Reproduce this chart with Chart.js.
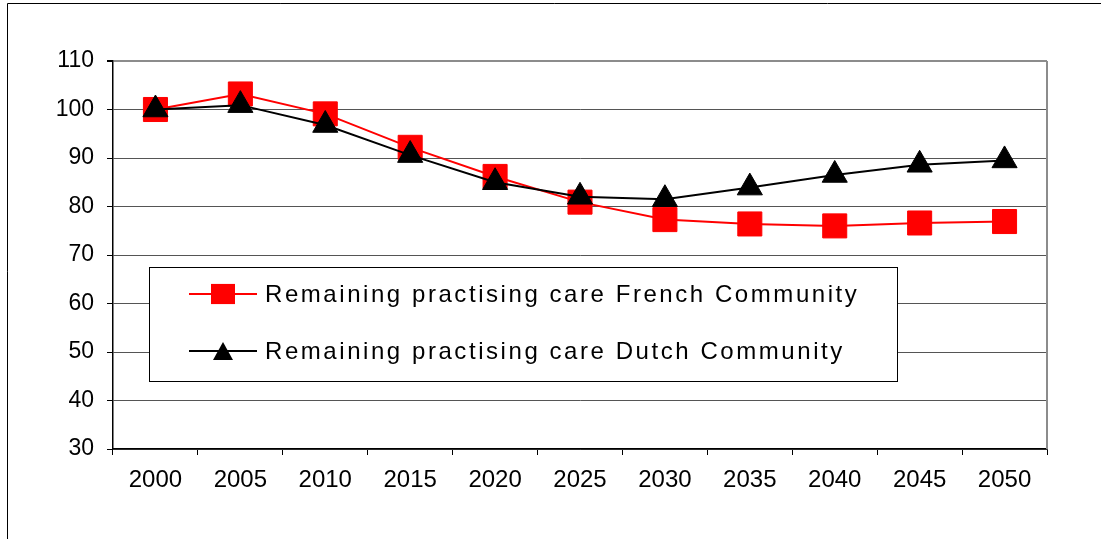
<!DOCTYPE html>
<html><head><meta charset="utf-8">
<script src="https://cdn.jsdelivr.net/npm/chart.js@4/dist/chart.umd.min.js"></script>
<style>html,body{margin:0;padding:0;background:#fff;overflow:hidden}#wrap{width:1101px;height:539px;position:relative}</style>
</head><body><div id="wrap"><canvas id="c" width="1101" height="539"></canvas></div>
<script>
const categories = ['2000','2005','2010','2015','2020','2025','2030','2035','2040','2045','2050'];
const frenchValues = [100, 103.2, 99.1, 92.2, 86.2, 80.9, 77.3, 76.4, 76.0, 76.6, 76.9];
const dutchValues = [100, 100.9, 96.8, 90.6, 85.0, 82.0, 81.5, 83.9, 86.5, 88.6, 89.5];
const yTicks = [30, 40, 50, 60, 70, 80, 90, 100, 110];
const seriesLabels = ['Remaining practising care French Community', 'Remaining practising care Dutch Community'];

const FONT = '"Liberation Sans", Arial, sans-serif';

function drawMarker(ctx, style, x, y, size, color) {
  ctx.fillStyle = color;
  ctx.beginPath();
  if (style === 'rect') {
    ctx.rect(x - size / 2, y - size * 0.42, size, size * 0.84);
  } else {
    const w = size, h = size * 0.9;
    ctx.moveTo(x, y - h / 2);
    ctx.lineTo(x + w / 2, y + h / 2);
    ctx.lineTo(x - w / 2, y + h / 2);
    ctx.closePath();
  }
  ctx.fill();
}

const framePlugin = {
  id: 'frame',
  beforeDraw(chart) {
    const ctx = chart.ctx;
    ctx.save();
    ctx.strokeStyle = '#000';
    ctx.lineWidth = 1;
    ctx.beginPath();
    ctx.moveTo(7.5, 539);
    ctx.lineTo(7.5, 3.5);
    ctx.lineTo(1101, 3.5);
    ctx.stroke();
    ctx.restore();
  },
  beforeDatasetsDraw(chart) {
    const ctx = chart.ctx, a = chart.chartArea;
    ctx.save();
    ctx.strokeStyle = '#8c8c8c';
    ctx.lineWidth = 2;
    ctx.beginPath();
    ctx.moveTo(a.right, a.top);
    ctx.lineTo(a.right, a.bottom);
    ctx.stroke();
    ctx.restore();
  },
  afterDatasetsDraw(chart) {
    const ctx = chart.ctx;
    ctx.save();
    ctx.fillStyle = '#fff';
    ctx.fillRect(149.5, 267.5, 748, 114);
    ctx.strokeStyle = '#000';
    ctx.lineWidth = 1;
    ctx.strokeRect(149.5, 267.5, 748, 114);
    ctx.font = '24px ' + FONT;
    ctx.textBaseline = 'middle';
    ctx.textAlign = 'left';
    ctx.letterSpacing = '0px';
    const w0 = ctx.measureText(seriesLabels[0]).width;
    const ls = Math.max(0, (592 - w0) / (seriesLabels[0].length - 1));
    const rows = [294, 351];
    const ds = chart.data.datasets;
    ds.forEach((d, i) => {
      const y = rows[i];
      ctx.strokeStyle = d.borderColor;
      ctx.lineWidth = 2;
      ctx.beginPath();
      ctx.moveTo(189, y);
      ctx.lineTo(257, y);
      ctx.stroke();
      drawMarker(ctx, d.pointStyle, 223, y, d.pointStyle === 'rect' ? 24 : 20, d.backgroundColor);
      ctx.fillStyle = '#000';
      ctx.letterSpacing = ls.toFixed(2) + 'px';
      ctx.fillText(d.label, 265, y + 1);
      ctx.letterSpacing = '0px';
    });
    ctx.restore();
  }
};

new Chart(document.getElementById('c'), {
  type: 'line',
  data: {
    labels: categories,
    datasets: [
      {
        label: seriesLabels[0], data: frenchValues,
        borderColor: '#ff0000', backgroundColor: '#ff0000', borderWidth: 2,
        pointStyle: 'rect', pointRadius: 17, pointBorderWidth: 1, pointBorderColor: '#ff0000',
        pointBackgroundColor: '#ff0000', tension: 0, order: 1
      },
      {
        label: seriesLabels[1], data: dutchValues,
        borderColor: '#000000', backgroundColor: '#000000', borderWidth: 2,
        pointStyle: 'triangle', pointRadius: 14.5, pointBorderWidth: 1, pointBorderColor: '#000',
        pointBackgroundColor: '#000', tension: 0, order: 0
      }
    ]
  },
  options: {
    responsive: false,
    devicePixelRatio: 1,
    animation: false,
    events: [],
    layout: { padding: { top: 61, left: 0, right: 54, bottom: 0 } },
    plugins: { legend: { display: false }, tooltip: { enabled: false } },
    scales: {
      x: {
        type: 'category',
        offset: true,
        grid: { offset: true, drawOnChartArea: false, drawTicks: true, tickLength: 6, color: '#000', lineWidth: 1 },
        border: { color: '#000', width: 1.5 },
        ticks: { font: { family: FONT, size: 24 }, color: '#000', padding: 11, maxRotation: 0, autoSkip: false },
        afterFit(s) { s.height = 90; }
      },
      y: {
        min: 30, max: 110,
        afterBuildTicks(s) { s.ticks = yTicks.map(v => ({ value: v })); },
        grid: {
          color: c => (c.tick && c.tick.value === 110) ? '#8c8c8c' : '#555',
          lineWidth: c => (c.tick && c.tick.value === 110) ? 2 : 1,
          tickColor: '#000', tickLength: 6, drawTicks: true
        },
        border: { color: '#000', width: 1.5 },
        ticks: { font: { family: FONT, size: 23 }, color: '#000', padding: 13, maxRotation: 0 },
        afterFit(s) { s.width = 113; }
      }
    }
  },
  plugins: [framePlugin]
});
</script>
</body></html>
